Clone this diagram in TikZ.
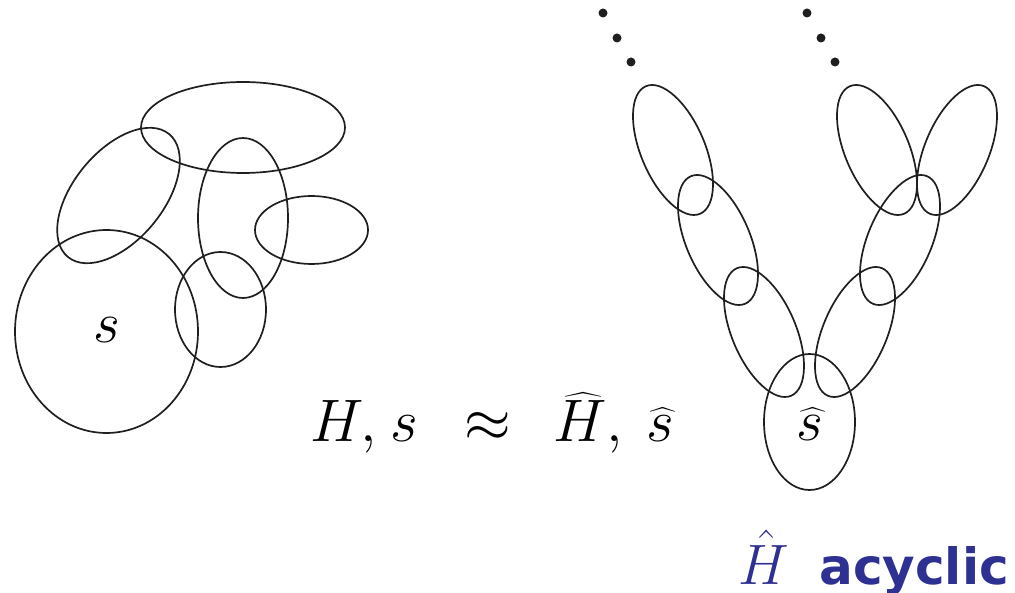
\RequirePackage{fix-cm}
\documentclass[tikz,border=0pt]{standalone}
\usepackage{exscale}
\usepackage{fontspec}
\newfontfamily\acfont{DejaVu Sans}
\definecolor{hblue}{RGB}{46,49,146}
\begin{document}
\begin{tikzpicture}[x=1pt,y=1pt,
  hedge/.style={line width=1.7pt, draw=black!88},
  hdot/.style={fill=black!88, draw=none},
  bigtext/.style={inner sep=0pt, font=\fontsize{58}{62}\selectfont}]
\useasboundingbox (0,0) rectangle (1015,592);
% left hypergraph
\coordinate (l1) at (106.5,260.5);
\coordinate (l2) at (118.5,396.5);
\coordinate (l3) at (243,464.5);
\coordinate (l4) at (243,374);
\coordinate (l5) at (220.5,282.5);
\coordinate (l6) at (311.5,362);
\draw[hedge] (l1) ellipse [x radius=91.5pt, y radius=101.5pt];
\draw[hedge, rotate around={50.5:(l2)}] (l2) ellipse [x radius=79.6pt, y radius=44.8pt];
\draw[hedge] (l3) ellipse [x radius=102pt, y radius=45.5pt];
\draw[hedge] (l4) ellipse [x radius=45pt, y radius=80pt];
\draw[hedge] (l5) ellipse [x radius=45.5pt, y radius=57.5pt];
\draw[hedge] (l6) ellipse [x radius=56.5pt, y radius=34pt];
% right hypergraph
\coordinate (a1) at (673,442);
\coordinate (a2) at (718,352);
\coordinate (a3) at (764,260);
\coordinate (b1) at (877,442);
\coordinate (c1) at (957,442);
\coordinate (b2) at (900,352);
\coordinate (b3) at (855,260);
\coordinate (r0) at (809.5,170);
\foreach \c in {a1,a2,a3,b1}
  \draw[hedge, rotate around={-67:(\c)}] (\c) ellipse [x radius=69.3pt, y radius=32pt];
\foreach \c in {c1,b2,b3}
  \draw[hedge, rotate around={67:(\c)}] (\c) ellipse [x radius=69.3pt, y radius=32pt];
\draw[hedge] (r0) ellipse [x radius=45.5pt, y radius=68pt];
% dots
\foreach \p in {(603,579),(617,554),(631,530),(807,579),(821,554),(835,530)}
  \fill[hdot] \p circle [radius=4.5pt];
% labels
\node[bigtext, anchor=base] (s) at (107,249) {$s$};
\node[inner sep=0pt, anchor=base west, font=\fontsize{60}{64}\selectfont] (formula) at (310,150)
  {$H,\hspace{4pt}s\;\hspace{13pt}\approx\;\hspace{9pt}\widehat{H},\hspace{13pt}\widehat{s}$};
\node[bigtext, anchor=base] (shat) at (810,151) {$\widehat{s}$};
\node[inner sep=0pt, anchor=base west, text=hblue, font=\fontsize{57}{60}\selectfont] (hh) at (738,8) {$\hat{H}$};
\node[inner sep=0pt, anchor=base east, text=hblue, font=\fontsize{50}{56}\selectfont\acfont\bfseries] (acyc) at (1009,8) {acyclic};
\end{tikzpicture}
\end{document}
